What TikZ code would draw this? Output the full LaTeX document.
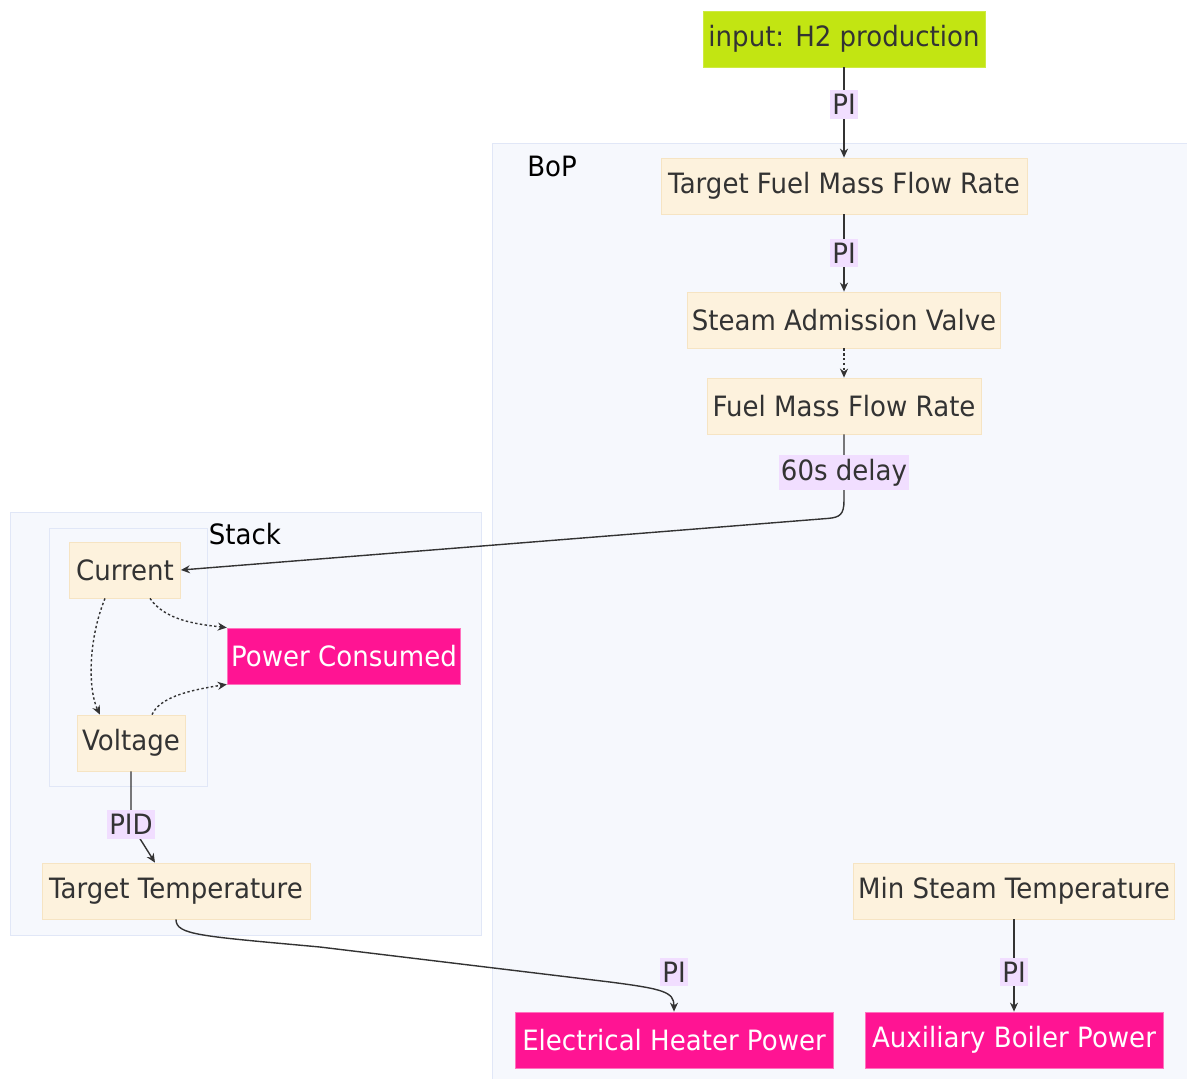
\documentclass[tikz,border=0pt]{standalone}
\usepackage{fontspec}
\setmainfont{DejaVu Sans}[FakeStretch=0.93]
\usetikzlibrary{arrows.meta}

\definecolor{boxfill}{RGB}{253,242,221}
\definecolor{boxline}{RGB}{246,228,195}
\definecolor{inputfill}{RGB}{194,229,18}
\definecolor{outfill}{RGB}{255,20,147}
\definecolor{lblfill}{RGB}{241,222,255}
\definecolor{grpfill}{RGB}{246,248,253}
\definecolor{grpline}{RGB}{225,231,247}
\definecolor{ink}{RGB}{51,51,51}

\tikzset{
  box/.style={draw=boxline, fill=boxfill, text=ink, minimum height=28pt,
    inner xsep=2pt, font=\fontsize{14}{16}\selectfont},
  inbox/.style={box, draw=inputfill!80!white, fill=inputfill},
  outbox/.style={box, draw=outfill!60!white, fill=outfill, text=white},
  lbl/.style={fill=lblfill, text=ink, inner xsep=1pt, inner ysep=2pt,
    font=\fontsize{14}{16}\selectfont},
  grp/.style={draw=grpline, fill=grpfill, line width=0.5pt},
  edge/.style={draw=ink, line width=0.7pt, -{Stealth[length=4.5pt,width=4pt]}},
  dot/.style={edge, dash pattern=on 1.2pt off 1.2pt}
}

\begin{document}
\begin{tikzpicture}[x=0.5pt, y=-0.5pt]
\useasboundingbox (0,0) rectangle (1187,1078);

% Gruppen
\begin{scope}
  \draw[grp] (492,143) rectangle (1195,1085);
  \draw[grp] (10,512) rectangle (481,935);
  \draw[grp] (49,528) rectangle (207,786);
  \node[font=\fontsize{14}{16}\selectfont] (bop) at (552,166) {BoP};
  \node[font=\fontsize{14}{16}\selectfont] (stack) at (245,534) {Stack};
\end{scope}

% Knoten
\node[inbox, minimum width=141pt] (h2) at (844,39) {input: H2 production};
\node[box, minimum width=183pt] (tfmfr) at (844,186) {Target Fuel Mass Flow Rate};
\node[box, minimum width=153.5pt] (sav) at (844,320) {Steam Admission Valve};
\node[box, minimum width=137pt] (fmfr) at (844,406) {Fuel Mass Flow Rate};
\node[box, minimum width=55.5pt] (cur) at (125,570) {Current};
\node[outbox, minimum width=115pt] (pc) at (344,656) {Power Consumed};
\node[box, minimum width=54pt] (volt) at (131,743) {Voltage};
\node[box, minimum width=134pt] (tt) at (176,891) {Target Temperature};
\node[box, minimum width=160.5pt] (mst) at (1014,891) {Min Steam Temperature};
\node[outbox, minimum width=159pt] (ehp) at (674,1040) {Electrical Heater Power};
\node[outbox, minimum width=149pt] (abp) at (1014,1040) {Auxiliary Boiler Power};

% Kanten
\draw[edge] (h2) -- node[lbl, pos=0.41] {PI} (tfmfr);
\draw[edge] (tfmfr) -- node[lbl] {PI} (sav);
\draw[dot] (sav) -- (fmfr);
\draw[edge] (fmfr.south) -- node[lbl, pos=0.58] {60s delay} ++(0,66)
  .. controls ++(0,14) and ++(12,-1) .. ++(-16,18) -- (cur.east);
\draw[dot] ([xshift=-10pt]cur.south) .. controls (88,640) and (88,690)
  .. ([xshift=-15.5pt]volt.north);
\draw[dot] ([xshift=12.5pt]cur.south) .. controls (165,620) and (195,624)
  .. (pc.north west);
\draw[dot] ([xshift=10.5pt]volt.north) .. controls (160,697) and (190,690)
  .. (pc.south west);
\draw[edge] (volt.south) -- ++(0,53) node[lbl] (pid) {PID}
  -- ([xshift=-10.5pt]tt.north);
\draw[edge] (tt.south) .. controls (176,935) and (200,936) .. (320,947)
  -- (610,982) .. controls (664,989) and (674,992) .. (ehp.north);
\node[lbl] (pi4) at (674,972) {PI};
\draw[edge] (mst) -- node[lbl, pos=0.57] {PI} (abp);

\end{tikzpicture}
\end{document}
